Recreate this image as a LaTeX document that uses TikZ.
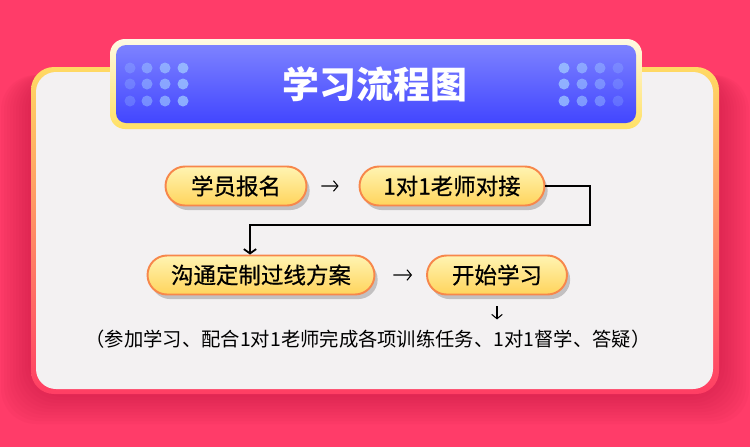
\documentclass[tikz,border=0pt]{standalone}
\usepackage{fontspec}
\setmainfont{Noto Sans CJK SC}
\newfontfamily\stepfont{Noto Sans CJK SC}[FakeBold=0.6]
\usetikzlibrary{positioning,arrows.meta,shapes.misc,shadows}

\definecolor{bgred}{RGB}{255,60,105}
\definecolor{shadowred}{RGB}{190,20,60}
\definecolor{cardgray}{RGB}{243,241,242}
\definecolor{rimyellow}{RGB}{255,218,100}
\definecolor{rimorange}{RGB}{255,150,95}
\definecolor{rimred}{RGB}{255,62,100}
\definecolor{bannertop}{RGB}{125,130,255}
\definecolor{bannerbot}{RGB}{66,70,255}
\definecolor{creamtop}{RGB}{255,250,228}
\definecolor{creambot}{RGB}{255,224,100}
\definecolor{pilltop}{RGB}{255,244,178}
\definecolor{pillbot}{RGB}{255,212,92}
\definecolor{pillrim}{RGB}{247,135,75}
\definecolor{dotblue}{RGB}{165,210,255}

\begin{document}
\begin{tikzpicture}[x=0.02cm,y=-0.02cm,
    stepnode/.style={rounded rectangle,draw=pillrim,line width=1.1pt,top color=pilltop,bottom color=pillbot,
      minimum height=0.78cm,inner sep=0pt,font=\stepfont\fontsize{12.8}{15}\selectfont,
      drop shadow={shadow xshift=1.8pt,shadow yshift=-2.6pt,fill=black,opacity=0.2}},
    flow/.style={-{Straight Barb[length=2.5pt,width=6pt]},line width=0.6pt},
    link/.style={-{Straight Barb[length=2.5pt,width=7pt]},line width=1pt}]

% background and card
\useasboundingbox (0,0) rectangle (750,447);
\fill[bgred] (0,0) rectangle (750,447);
\foreach \k in {3,6,...,30}
  \fill[shadowred,opacity=0.05,rounded corners=0.7cm] (31-\k,75) rectangle (719+\k,394+\k);
\shade[top color=rimyellow,middle color=rimorange,bottom color=rimred,rounded corners=0.46cm] (31,67) rectangle (719,394);
\fill[cardgray,rounded corners=0.4cm] (36,72) rectangle (713,389);

% title banner
\shade[top color=creamtop,bottom color=creambot,rounded corners=0.3cm] (110,39) rectangle (642,129);
\shade[top color=bannertop,bottom color=bannerbot,rounded corners=0.2cm] (116,45) rectangle (636,123);
\foreach \x/\o in {130/0.25,147/0.45,165/0.6,183/0.7}
  \foreach \y in {68,84,101}
    \fill[dotblue,opacity=\o] (\x,\y) circle (5.5);
\foreach \x/\o in {564/0.7,582/0.55,600/0.4,618/0.22}
  \foreach \y in {68,84,101}
    \fill[dotblue,opacity=\o] (\x,\y) circle (5.5);
\node[text=white,font=\fontsize{21}{25}\selectfont\bfseries] (title) at (375,84) {学习流程图};

% steps
\node[stepnode,minimum width=2.82cm] (baoming) at (236,186) {学员报名};
\node[stepnode,minimum width=3.7cm] (duijie) at (452,186) {1对1老师对接};
\node[stepnode,minimum width=4.54cm] (fangan) at (261,275) {沟通定制过线方案};
\node[stepnode,minimum width=2.8cm] (kaishi) at (497,275) {开始学习};
\node[font=\fontsize{11}{13}\selectfont,inner sep=0pt] (detail) at (368,339)
  {（参加学习、配合1对1老师完成各项训练任务、1对1督学、答疑）};

\coordinate (bend) at (590,225);

\draw[flow,shorten <=0.28cm,shorten >=0.4cm] (baoming) -- (duijie);
\draw[link] (duijie.east) -| (bend) -| ([xshift=-0.22cm]fangan.north);
\draw[flow,shorten <=0.36cm,shorten >=0.28cm] (fangan) -- (kaishi);
\draw[flow,shorten <=0.22cm,shorten >=0.2cm] (kaishi.south) -- (kaishi.south |- detail.north);
\end{tikzpicture}
\end{document}
